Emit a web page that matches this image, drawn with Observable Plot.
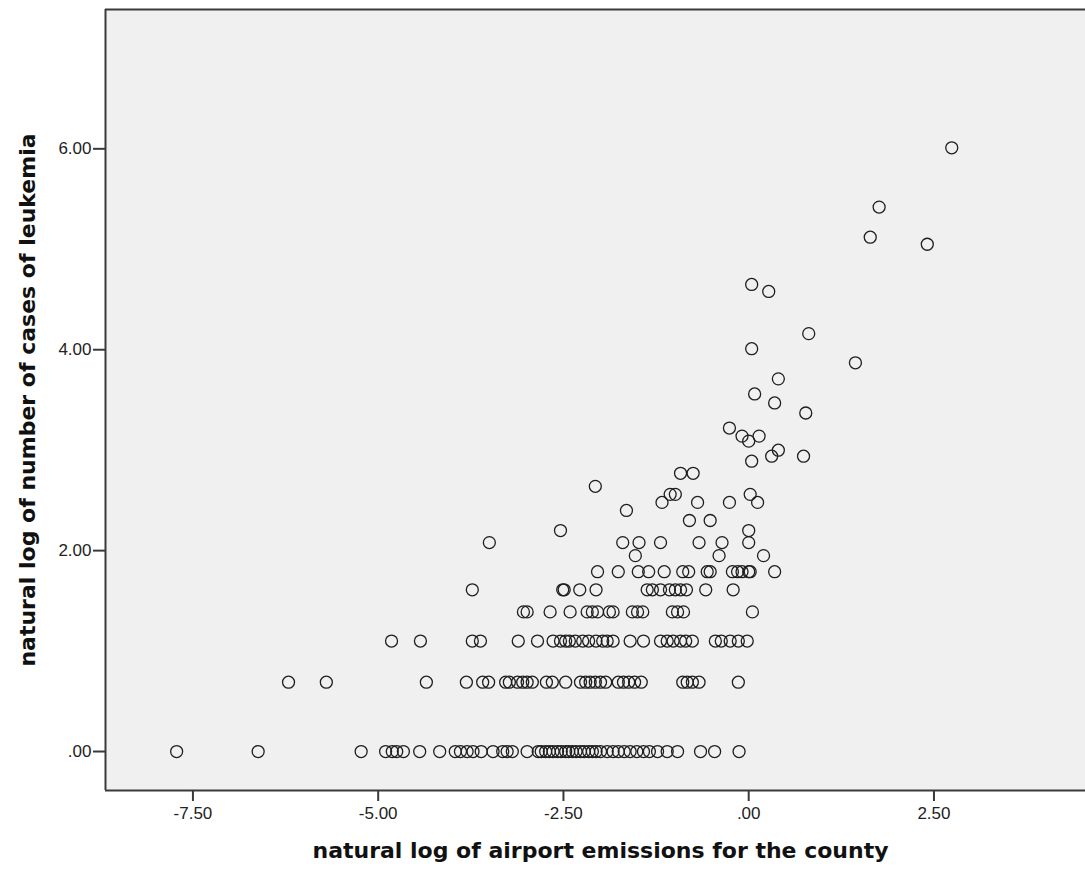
<!DOCTYPE html>
<html>
<head>
<meta charset="utf-8">
<script src="https://cdn.jsdelivr.net/npm/d3@7"></script>
<script src="https://cdn.jsdelivr.net/npm/@observablehq/plot@0.6"></script>
<style>
  html, body { margin: 0; padding: 0; background: #ffffff; }
  #chart { width: 1085px; height: 875px; overflow: hidden; }
</style>
</head>
<body>
<div id="chart"></div>
<script>
// Axis titles
const xTitle = "natural log of airport emissions for the county";
const yTitle = "natural log of number of cases of leukemia";

// Tick values
const xTicks = [-7.5, -5, -2.5, 0, 2.5];
const yTicks = [0, 2, 4, 6];

// Visible axis extents
const xExtent = [-8.68, 4.545];
const yExtent = [-0.388, 7.387];

// natural log of number of cases (one level per row of points)
const caseLevels = [0, 0.69, 1.10, 1.39, 1.61, 1.79, 1.95, 2.08, 2.20, 2.30, 2.40,
  2.48, 2.56, 2.64, 2.77, 2.89, 2.94, 3.00, 3.09, 3.14, 3.22, 3.37, 3.47, 3.56,
  3.71, 3.87, 4.01, 4.16, 4.58, 4.65, 5.05, 5.12, 5.42, 6.01];

// natural log of airport emissions, for the counties at each case level above
const emissionsByLevel = [
  [-7.72, -6.62, -5.23, -4.90, -4.81, -4.75, -4.66, -4.44, -4.17, -3.96, -3.89, -3.80,
   -3.72, -3.61, -3.45, -3.32, -3.26, -3.19, -2.99, -2.84, -2.80, -2.74, -2.69, -2.64,
   -2.58, -2.53, -2.47, -2.43, -2.38, -2.33, -2.27, -2.22, -2.16, -2.11, -2.06, -2.00,
   -1.91, -1.83, -1.76, -1.68, -1.60, -1.51, -1.42, -1.34, -1.23, -1.10, -0.96, -0.65,
   -0.46, -0.13],
  [-6.21, -5.70, -4.35, -3.81, -3.59, -3.51, -3.28, -3.23, -3.12, -3.05, -2.99, -2.92,
   -2.73, -2.65, -2.47, -2.27, -2.20, -2.14, -2.07, -2.00, -1.93, -1.76, -1.69, -1.62,
   -1.54, -1.45, -0.89, -0.83, -0.76, -0.67, -0.14],
  [-4.82, -4.43, -3.73, -3.62, -3.11, -2.85, -2.64, -2.54, -2.47, -2.42, -2.34, -2.24,
   -2.16, -2.06, -1.97, -1.91, -1.83, -1.60, -1.42, -1.19, -1.10, -1.02, -0.92, -0.85,
   -0.76, -0.45, -0.37, -0.25, -0.14, -0.02],
  [-3.04, -2.99, -2.68, -2.41, -2.18, -2.11, -2.04, -1.88, -1.83, -1.57, -1.50, -1.43,
   -1.03, -0.96, -0.88, 0.05],
  [-3.73, -2.51, -2.49, -2.28, -2.06, -1.37, -1.30, -1.19, -1.07, -0.99, -0.92, -0.84,
   -0.58, -0.21],
  [-2.04, -1.76, -1.49, -1.35, -1.14, -0.89, -0.81, -0.56, -0.52, -0.22, -0.15, -0.09,
   0.00, 0.02, 0.35],
  [-1.53, -0.40, 0.20],
  [-3.50, -1.70, -1.48, -1.19, -0.67, -0.36, 0.00],
  [-2.54, 0.00],
  [-0.80, -0.52],
  [-1.65],
  [-1.17, -0.69, -0.26, 0.12],
  [-1.06, -0.99, 0.02],
  [-2.07],
  [-0.92, -0.75],
  [0.04],
  [0.31, 0.74],
  [0.40],
  [0.00],
  [-0.09, 0.14],
  [-0.26],
  [0.77],
  [0.35],
  [0.08],
  [0.40],
  [1.44],
  [0.04],
  [0.81],
  [0.27],
  [0.04],
  [2.41],
  [1.64],
  [1.76],
  [2.74]
];

const points = caseLevels.flatMap((lvl, i) =>
  emissionsByLevel[i].map(e => ({emissions: e, cases: lvl})));

const fmt = d => d3.format(".2f")(d).replace("\u2212", "-").replace(/^(-?)0\./, "$1.");
const ink = "#3a3a3a";

const chart = Plot.plot({
  width: 1085,
  height: 875,
  marginTop: 9,
  marginBottom: 85,
  marginLeft: 105,
  marginRight: 0,
  style: {
    background: "#ffffff",
    color: "#222222",
    fontFamily: "'Liberation Sans', Arial, sans-serif",
    fontSize: "17px",
    overflow: "hidden"
  },
  x: {domain: xExtent},
  y: {domain: yExtent},
  marks: [
    Plot.frame({fill: "#f0f0f0", stroke: "none"}),
    Plot.dot(points, {
      x: "emissions", y: "cases", r: 6,
      stroke: "#1e1e1e", strokeWidth: 1.3, fill: "none"
    }),
    Plot.ruleX([xExtent[0]], {stroke: ink, strokeWidth: 2}),
    Plot.ruleY(yExtent, {stroke: ink, strokeWidth: 2}),
    Plot.axisX({
      ticks: xTicks, tickFormat: fmt, tickSize: 11, tickPadding: 5,
      stroke: ink, strokeWidth: 2, fontSize: 17, label: null
    }),
    Plot.axisY({
      ticks: yTicks, tickFormat: fmt, tickSize: 12, tickPadding: 2,
      stroke: ink, strokeWidth: 2, fontSize: 17, label: null
    }),
    Plot.text([xTitle], {
      text: d => d, frameAnchor: "bottom", dy: 60, dx: 5, lineAnchor: "middle",
      fontWeight: "bold", fontSize: 22, fontFamily: "'DejaVu Sans', sans-serif",
      fill: "#111111"
    }),
    Plot.text([yTitle], {
      text: d => d, frameAnchor: "left", dx: -78, rotate: -90,
      textAnchor: "middle", lineAnchor: "middle",
      fontWeight: "bold", fontSize: 22, fontFamily: "'DejaVu Sans', sans-serif",
      fill: "#111111"
    })
  ]
});

document.getElementById("chart").appendChild(chart);
</script>
</body>
</html>
